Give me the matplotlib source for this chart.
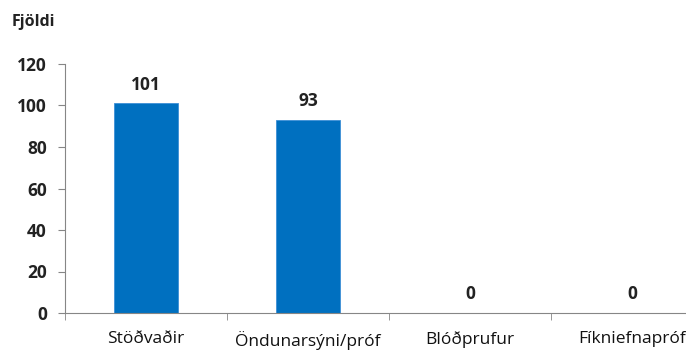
import matplotlib.pyplot as plt
import numpy as np

categories = ["Stöðvaðir", "Öndunarsýni/próf", "Blóðprufur", "Fíkniefnapróf"]
values = [101, 93, 0, 0]
yticks = [0, 20, 40, 60, 80, 100, 120]

fig = plt.figure(figsize=(6.86, 3.51), dpi=100)
ax = fig.add_axes([65/686, 38/351, 648/686, 249/351])

x = np.arange(len(categories))
bars = ax.bar(x, values, width=0.4, color="#0070C0", edgecolor="#3d8fd6", linewidth=0.6)

for xi, v in zip(x, values):
    ax.annotate(str(v), (xi, v), xytext=(0, 7), textcoords="offset points",
                ha="center", va="bottom", fontsize=12.5, fontweight="bold",
                family="Open Sans", color="#222222")

ax.set_xlim(-0.5, len(categories) - 0.5)
ax.set_ylim(0, 120)
ax.set_yticks(yticks)
ax.set_yticklabels([str(t) for t in yticks], fontsize=12.5, fontweight="bold",
                   family="Open Sans", color="#222222")
ax.set_xticks(x)
ax.set_xticklabels(categories, fontsize=12.5, family="Open Sans", color="#111111")
ax.set_xticks(np.arange(len(categories) + 1) - 0.5, minor=True)
ax.tick_params(axis="x", which="major", length=0, pad=13)
ax.tick_params(axis="x", which="minor", length=5, color="#868686", direction="out")
ax.tick_params(axis="y", length=5, color="#868686", pad=8)

for s in ["top", "right"]:
    ax.spines[s].set_visible(False)
for s in ["left", "bottom"]:
    ax.spines[s].set_color("#868686")

fig.text(12/686, 1 - 22/351, "Fjöldi", fontsize=11.5, fontweight="bold",
         family="Open Sans", va="center", ha="left", color="#222222")

fig.savefig("out.png", dpi=100)
